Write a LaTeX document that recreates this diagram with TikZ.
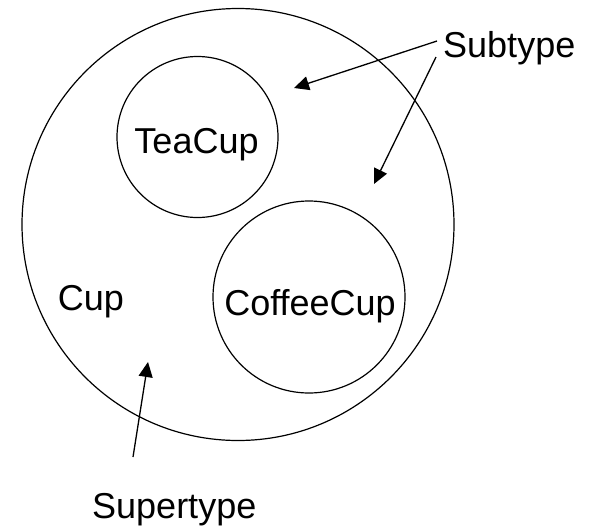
\documentclass[tikz,border=0pt]{standalone}
\usepackage{fontspec}
\setmainfont{Liberation Sans}
\usetikzlibrary{arrows.meta}
\begin{document}
\begin{tikzpicture}[x=1pt,y=-1pt,
  setcircle/.style={draw=black,circle,line width=1.2pt,inner sep=0pt,outer sep=0pt},
  lbl/.style={font=\fontsize{36}{40}\selectfont,inner sep=0pt,anchor=base},
  pointer/.style={draw=black,line width=1.3pt,-{Triangle[length=15pt,width=14pt]}}]
\useasboundingbox (0,0) rectangle (592,528);
\node[setcircle,minimum size=432pt] (cup) at (238,224.5) {};
\node[setcircle,minimum size=161pt] (tea) at (197.5,137) {};
\node[setcircle,minimum size=192pt] (coffee) at (309,297) {};
\node[lbl] (cuplbl) at (91,310.5) {Cup};
\node[lbl] (tealbl) at (196.5,153) {TeaCup};
\node[lbl] (coffeelbl) at (310,315) {CoffeeCup};
\node[lbl,anchor=base west] (sub) at (443,57) {Subtype};
\node[lbl,anchor=base west] (super) at (92,518) {Supertype};
\coordinate (subA) at (437,41);
\coordinate (subB) at (436,57);
\coordinate (tipA) at (294,88);
\coordinate (tipB) at (374,184);
\coordinate (superT) at (133,457);
\coordinate (tipC) at (148,362);
\draw[pointer] (subA) -- (tipA);
\draw[pointer] (subB) -- (tipB);
\draw[pointer] (superT) -- (tipC);
\end{tikzpicture}
\end{document}
